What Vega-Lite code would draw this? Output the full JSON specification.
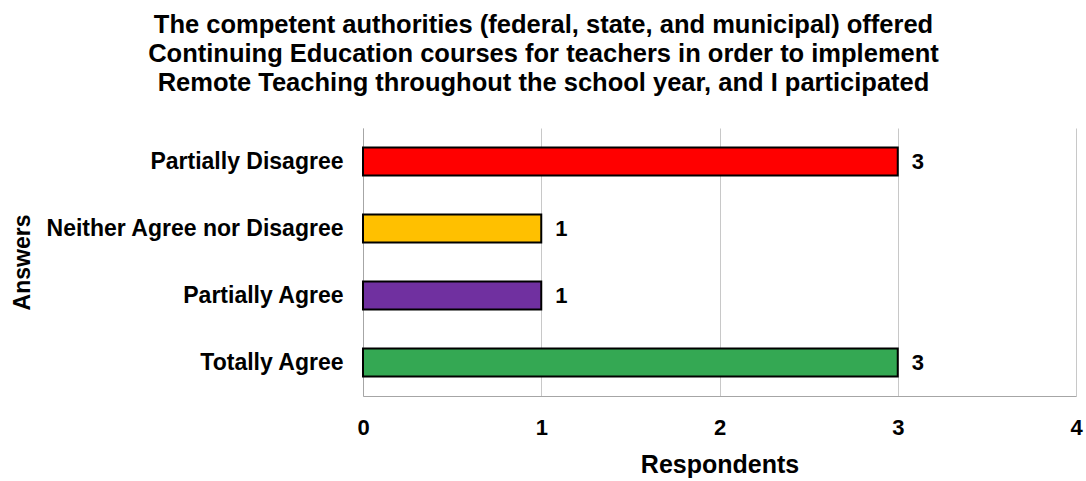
{
  "$schema": "https://vega.github.io/schema/vega-lite/v6.json",
  "width": 713,
  "height": 268,
  "autosize": {"type": "none"},
  "padding": {"left": 363, "top": 128, "right": 10, "bottom": 85},
  "background": "white",
  "title": {
    "text": ["The competent authorities (federal, state, and municipal) offered", "Continuing Education courses for teachers in order to implement", "Remote Teaching throughout the school year, and I participated"],
    "font": "Liberation Sans",
    "fontSize": 25.5,
    "fontWeight": "bold",
    "color": "black",
    "anchor": "middle",
    "dx": -176,
    "offset": 32,
    "lineHeight": 29
  },
  "data": {
    "values": [
      {"answer": "Partially Disagree", "count": 3},
      {"answer": "Neither Agree nor Disagree", "count": 1},
      {"answer": "Partially Agree", "count": 1},
      {"answer": "Totally Agree", "count": 3}
    ]
  },
  "config": {
    "view": {"stroke": null},
    "font": "Liberation Sans"
  },
  "layer": [
    {
      "mark": {"type": "bar", "stroke": "black", "strokeWidth": 2},
      "encoding": {
        "y": {
          "field": "answer",
          "type": "nominal",
          "sort": null,
          "scale": {"paddingInner": 0.58, "paddingOuter": 0.29},
          "axis": {
            "title": "Answers",
            "titleFontSize": 23,
            "titleFontWeight": "bold",
            "titleColor": "black",
            "titleX": -341,
            "titleY": 134,
            "titleAngle": -90,
            "titleAlign": "center",
            "titleBaseline": "middle",
            "labelFontSize": 23,
            "labelFontWeight": "bold",
            "labelColor": "black",
            "labelPadding": 20,
            "labelLimit": 400,
            "ticks": false,
            "domainColor": "#a6a6a6",
            "domainWidth": 1
          }
        },
        "x": {
          "field": "count",
          "type": "quantitative",
          "scale": {"domain": [0, 4]},
          "axis": {
            "title": "Respondents",
            "titleFontSize": 25,
            "titleFontWeight": "bold",
            "titleColor": "black",
            "titlePadding": 14,
            "labelFontSize": 22,
            "labelFontWeight": "bold",
            "labelColor": "black",
            "labelPadding": 21,
            "labelOverlap": false,
            "labelFlush": false,
            "values": [0, 1, 2, 3, 4],
            "ticks": false,
            "grid": true,
            "gridColor": "#c8c8c8",
            "gridWidth": 1,
            "domainColor": "#a6a6a6",
            "domainWidth": 1,
            "format": "d"
          }
        },
        "color": {
          "field": "answer",
          "type": "nominal",
          "scale": {
            "domain": ["Partially Disagree", "Neither Agree nor Disagree", "Partially Agree", "Totally Agree"],
            "range": ["#ff0000", "#ffc000", "#7030a0", "#34a853"]
          },
          "legend": null
        }
      }
    },
    {
      "mark": {"type": "text", "align": "left", "dx": 14, "fontSize": 22, "fontWeight": "bold", "color": "black"},
      "encoding": {
        "y": {"field": "answer", "type": "nominal", "sort": null},
        "x": {"field": "count", "type": "quantitative"},
        "text": {"field": "count", "type": "quantitative"}
      }
    }
  ]
}
